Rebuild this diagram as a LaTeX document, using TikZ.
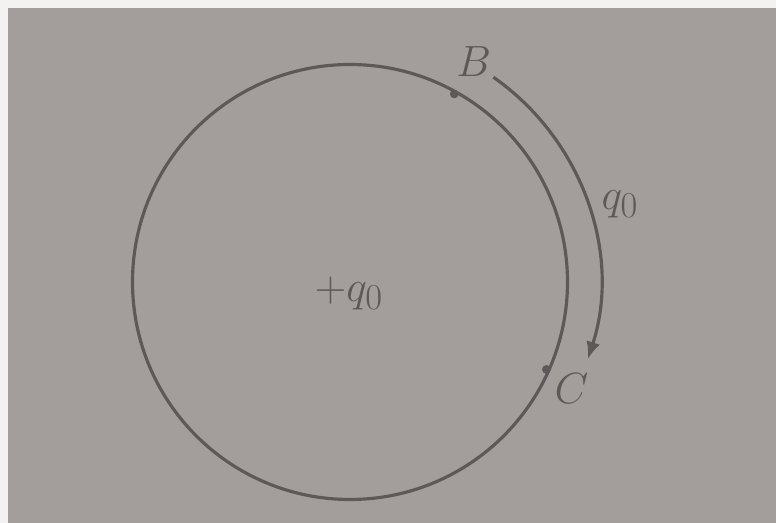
\documentclass[tikz,border=0pt]{standalone}
\usepackage{tikz}
\usetikzlibrary{arrows.meta, calc}
\definecolor{PaperGray}{HTML}{A39D9B}
\definecolor{InkGray}{HTML}{5E5858}
\definecolor{EdgeWhite}{HTML}{F4F2F1}
\tikzset{
  ring/.style={draw=InkGray, line width=1.8pt},
  spot/.style={circle, fill=InkGray, inner sep=0pt, minimum size=5pt},
  tag/.style={text=InkGray, font=\Huge, inner sep=1pt},
  arcarrow/.style={-{Latex[length=3.5mm, width=2.8mm]}, draw=InkGray, line width=1.8pt}
}

\begin{document}
\begin{tikzpicture}
\useasboundingbox (0,0) rectangle (15.52,10.46);
\fill[EdgeWhite] (0,0) rectangle (15.52,10.46);
\fill[PaperGray] (0.16,0) rectangle (15.52,10.30);

\coordinate (o) at (7.0,4.82);
\draw[ring] (o) circle[radius=4.35];

% charge at the centre
\node[tag] (q) at (6.98,4.6) {$+q_0$};

% points on the ring
\node[spot] (b) at ($(o)+(61:4.3)$) {};
\node[spot] (c) at ($(o)+(-24:4.3)$) {};
\node[tag, anchor=south west] (blab) at ($(b)+(0.0,0.3)$) {$B$};
\node[tag, anchor=north west] (clab) at ($(c)+(0.12,-0.05)$) {$C$};

% path of the test charge
\coordinate (s) at ($(o)+(55:5.0)$);
\draw[arcarrow] (s) arc[start angle=55, end angle=-18, radius=5.0];
\node[tag] (qlab) at (12.4,6.38) {$q_0$};
\end{tikzpicture}
\end{document}
